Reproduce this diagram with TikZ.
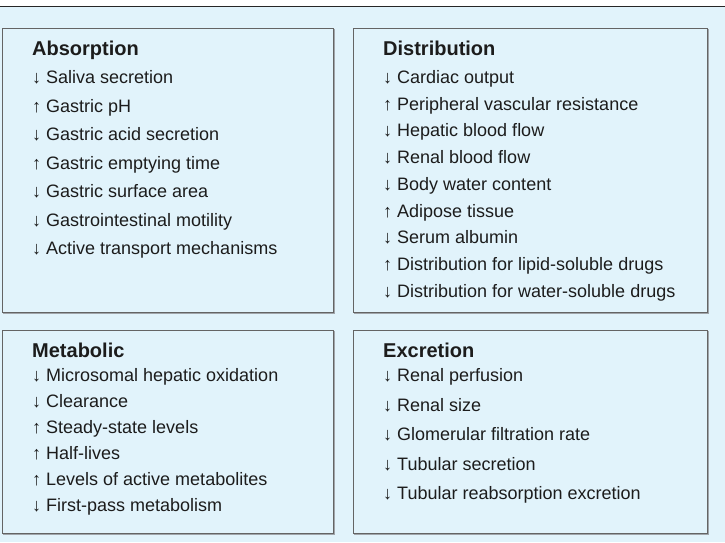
\documentclass[tikz,border=0pt]{standalone}
\usepackage{fontspec}
\setmainfont{Liberation Sans}
\definecolor{bgblue}{RGB}{225,243,251}
\definecolor{boxline}{RGB}{100,100,100}
\definecolor{shade}{RGB}{160,165,170}
\definecolor{txt}{RGB}{28,28,28}
\tikzset{
  panel/.style={draw=boxline, line width=1.3pt, fill=bgblue, anchor=north west, inner sep=0pt,
    preaction={draw=shade, line width=1.3pt, transform canvas={xshift=1pt, yshift=-1pt}}},
  ttl/.style={anchor=base west, inner sep=0pt, text=txt, font=\fontsize{20}{22}\selectfont\bfseries},
  itm/.style={anchor=base west, inner sep=0pt, text=txt, font=\fontsize{18}{20}\selectfont},
}
\begin{document}
\begin{tikzpicture}[x=1pt,y=-1pt]
\useasboundingbox (0,0) rectangle (725,542);
\fill[bgblue] (0,6.5) rectangle (725,542);
\coordinate (tl) at (0,6.5);
\coordinate (tr) at (725,6.5);
\draw[line width=1.5pt, black!85] (tl) -- (tr);
% panels
\node[panel, minimum width=331pt, minimum height=284pt] (abs) at (2,28) {};
\node[panel, minimum width=354pt, minimum height=284pt] (dis) at (353,28) {};
\node[panel, minimum width=331pt, minimum height=203pt] (met) at (2,330) {};
\node[panel, minimum width=354pt, minimum height=203pt] (exc) at (353,330) {};
% Absorption
\node[ttl] (absT) at (32,55) {Absorption};
\foreach \t [count=\i from 0] in {↓ Saliva secretion, ↑ Gastric pH, ↓ Gastric acid secretion, ↑ Gastric emptying time, ↓ Gastric surface area, ↓ Gastrointestinal motility, ↓ Active transport mechanisms}
  \node[itm] (abs\i) at (32,83.5+28.5*\i) {\t};
% Distribution
\node[ttl] (disT) at (383,55) {Distribution};
\foreach \t [count=\i from 0] in {↓ Cardiac output, ↑ Peripheral vascular resistance, ↓ Hepatic blood flow, ↓ Renal blood flow, ↓ Body water content, ↑ Adipose tissue, ↓ Serum albumin, ↑ Distribution for lipid-soluble drugs, ↓ Distribution for water-soluble drugs}
  \node[itm] (dis\i) at (383,83.5+26.7*\i) {\t};
% Metabolic
\node[ttl] (metT) at (32,357) {Metabolic};
\foreach \t [count=\i from 0] in {↓ Microsomal hepatic oxidation, ↓ Clearance, ↑ Steady-state levels, ↑ Half-lives, ↑ Levels of active metabolites, ↓ First-pass metabolism}
  \node[itm] (met\i) at (32,381.5+26*\i) {\t};
% Excretion
\node[ttl] (excT) at (383,357) {Excretion};
\foreach \t [count=\i from 0] in {↓ Renal perfusion, ↓ Renal size, ↓ Glomerular filtration rate, ↓ Tubular secretion, ↓ Tubular reabsorption excretion}
  \node[itm] (exc\i) at (383,381.5+29.5*\i) {\t};
\end{tikzpicture}
\end{document}
